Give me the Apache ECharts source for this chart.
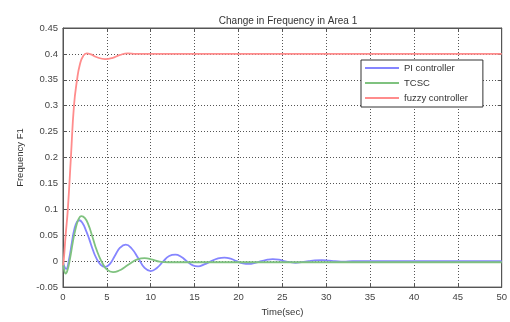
<!DOCTYPE html>
<html>
<head>
<meta charset="utf-8">
<script src="https://cdn.jsdelivr.net/npm/echarts@6/dist/echarts.min.js"></script>
<style>
  html, body { margin: 0; padding: 0; background: #fff; }
  #chart { width: 510px; height: 322px; }
</style>
</head>
<body>
<div id="chart"></div>
<script>
// Frequency deviation in area 1 for three controllers (time in seconds)
var piTime  = [0, 0.15, 0.35, 0.7, 1.0, 1.3, 1.6, 1.85, 2.2, 2.6, 3.0, 3.4, 3.8, 4.3, 4.8, 5.3, 5.9, 6.5, 7.15, 7.8, 8.6, 9.3, 10.0, 10.7, 11.4, 12.1, 12.8, 13.5, 14.1, 14.8, 15.4, 16.1, 16.9, 17.6, 18.4, 19.1, 19.8, 20.5, 21.2, 21.9, 22.6, 23.3, 23.9, 24.6, 25.2, 25.9, 26.5, 27.2, 28.0, 28.7, 29.5, 30.3, 31.0, 32.0, 33.0, 50];
var piValue = [0, -0.01, -0.015, 0.005, 0.035, 0.062, 0.076, 0.079, 0.074, 0.06, 0.042, 0.022, 0.006, -0.007, -0.011, -0.006, 0.01, 0.026, 0.032, 0.025, 0.005, -0.013, -0.019, -0.013, -0.001, 0.01, 0.0125, 0.008, 0.0, -0.008, -0.01, -0.006, 0.0, 0.005, 0.007, 0.005, 0.0, -0.004, -0.005, -0.003, 0.0, 0.003, 0.004, 0.003, 0.0, -0.002, -0.003, -0.002, 0.0, 0.0015, 0.002, 0.001, 0.0, -0.001, 0.0, 0.0];

var tcscTime  = [0, 0.12, 0.3, 0.5, 0.8, 1.1, 1.4, 1.75, 2.1, 2.5, 2.9, 3.3, 3.7, 4.1, 4.5, 5.0, 5.7, 6.4, 7.0, 7.7, 8.4, 9.3, 10.2, 11.0, 12.0, 50];
var tcscValue = [0, -0.015, -0.024, -0.018, 0.005, 0.035, 0.06, 0.08, 0.087, 0.083, 0.07, 0.05, 0.028, 0.01, -0.004, -0.016, -0.021, -0.018, -0.012, -0.004, 0.003, 0.006, 0.003, -0.001, -0.002, -0.002];

var fuzzyTime  = [0, 0.1, 0.3, 0.55, 0.9, 1.25, 1.6, 1.93, 2.3, 2.7, 3.2, 3.8, 4.8, 5.6, 6.5, 7.4, 8.3, 10.0, 50];
var fuzzyValue = [-0.008, 0.005, 0.05, 0.1, 0.2, 0.3, 0.35, 0.38, 0.396, 0.401, 0.399, 0.394, 0.39, 0.392, 0.398, 0.401, 0.4, 0.4, 0.4];

var seriesNames = ['PI controller', 'TCSC', 'fuzzy controller'];
var seriesColors = ['#8585ff', '#7fc27f', '#ff8c8c'];

var xRange = { min: 0, max: 50, interval: 5 };
var yRange = { min: -0.05, max: 0.45, interval: 0.05 };

function pairs(t, v) {
  return t.map(function (x, i) { return [x, v[i]]; });
}

var FONT = 'Liberation Sans, Arial, sans-serif';

function tickLabel(v) {
  return String(parseFloat(v.toFixed(2)));
}

var chart = echarts.init(document.getElementById('chart'), null, { renderer: 'canvas' });

var gridLine = { show: true, lineStyle: { type: [1, 2], color: '#555', width: 1 } };

chart.setOption({
  animation: false,
  backgroundColor: '#fff',
  title: {
    text: 'Change in Frequency in Area 1',
    left: 283, top: 11, textAlign: 'center',
    textStyle: { fontFamily: FONT, fontSize: 10, fontWeight: 'normal', color: '#333' }
  },
  legend: {
    orient: 'vertical',
    left: 361, top: 60,
    width: 122,
    data: seriesNames,
    itemWidth: 34, itemHeight: 10, itemGap: 5,
    padding: [3, 15, 4, 3],
    borderColor: '#333', borderWidth: 1,
    backgroundColor: '#fff',
    itemStyle: { opacity: 0 },
    textStyle: { fontFamily: FONT, fontSize: 9.5, color: '#333' }
  },
  grid: { left: 63, right: 7, top: 28, bottom: 29, show: true, borderColor: '#555', borderWidth: 1 },
  xAxis: [{
    type: 'value', min: xRange.min, max: xRange.max, interval: xRange.interval,
    name: 'Time(sec)', nameLocation: 'middle', nameGap: 19,
    nameTextStyle: { fontFamily: FONT, fontSize: 9.5, color: '#333' },
    axisLine: { show: true, onZero: false, lineStyle: { color: '#555' } },
    axisTick: { show: true, inside: true, length: 4, lineStyle: { color: '#555' } },
    axisLabel: { fontFamily: FONT, fontSize: 9.5, color: '#444', margin: 5, formatter: tickLabel },
    splitLine: gridLine
  }, {
    type: 'value', position: 'top', min: xRange.min, max: xRange.max, interval: xRange.interval,
    axisLine: { show: true, onZero: false, lineStyle: { color: '#555' } },
    axisTick: { show: true, inside: true, length: 4, lineStyle: { color: '#555' } },
    axisLabel: { show: false }, splitLine: { show: false }
  }],
  yAxis: [{
    type: 'value', min: yRange.min, max: yRange.max, interval: yRange.interval,
    name: 'Frequency F1', nameLocation: 'middle', nameGap: 38,
    nameTextStyle: { fontFamily: FONT, fontSize: 9.5, color: '#333' },
    axisLine: { show: true, onZero: false, lineStyle: { color: '#555' } },
    axisTick: { show: true, inside: true, length: 4, lineStyle: { color: '#555' } },
    axisLabel: { fontFamily: FONT, fontSize: 9.5, color: '#444', margin: 5, formatter: tickLabel },
    splitLine: gridLine
  }, {
    type: 'value', position: 'right', min: yRange.min, max: yRange.max, interval: yRange.interval,
    axisLine: { show: true, onZero: false, lineStyle: { color: '#555' } },
    axisTick: { show: true, inside: true, length: 4, lineStyle: { color: '#555' } },
    axisLabel: { show: false }, splitLine: { show: false }
  }],
  series: [
    { name: seriesNames[0], type: 'line', data: pairs(piTime, piValue) },
    { name: seriesNames[1], type: 'line', data: pairs(tcscTime, tcscValue) },
    { name: seriesNames[2], type: 'line', data: pairs(fuzzyTime, fuzzyValue) }
  ].map(function (s, i) {
    s.smooth = 0.5;
    s.symbol = 'none';
    s.showSymbol = false;
    s.color = seriesColors[i];
    s.lineStyle = { width: 1.8, color: seriesColors[i] };
    return s;
  })
});
</script>
</body>
</html>
